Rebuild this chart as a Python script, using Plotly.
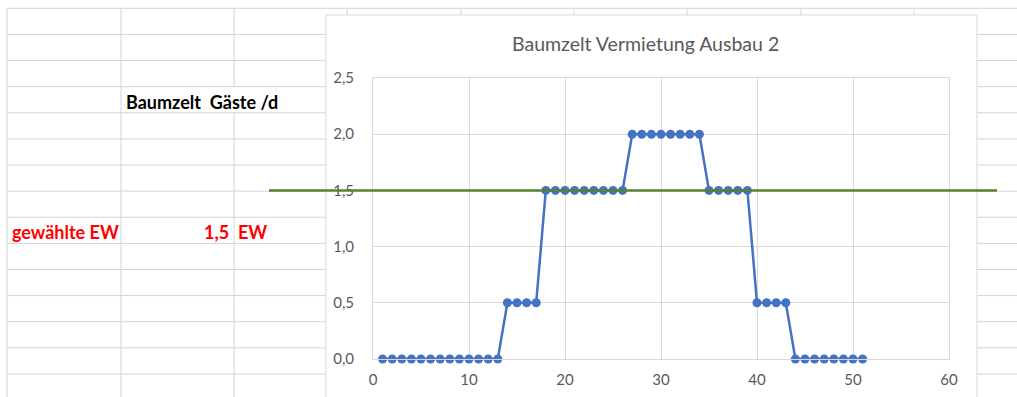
import plotly.graph_objects as go

# Daily occupancy of the tree tent (guests per day) over the rental days
days = list(range(1, 52))
guests = ([0.0] * 13 + [0.5] * 4 + [1.5] * 9 + [2.0] * 8 +
          [1.5] * 5 + [0.5] * 4 + [0.0] * 8)

chosen_ew = 1.5          # selected design value (EW)
chart_title = "Baumzelt Vermietung Ausbau 2"
x_ticks = [0, 10, 20, 30, 40, 50, 60]
y_ticks = [0.0, 0.5, 1.0, 1.5, 2.0, 2.5]

W, H = 1017, 397
PL, PR, PT, PB = 373, 949, 78, 359  # plot area in pixels


def px(x):
    return (x - PL) / (PR - PL)


def py(y):
    return (PB - y) / (PB - PT)


GRID = "#d4d4d4"
shapes = []


def hline(x0, x1, y, color=GRID, width=1):
    shapes.append(dict(type="line", xref="paper", yref="paper",
                       x0=px(x0), x1=px(x1), y0=py(y), y1=py(y),
                       line=dict(color=color, width=width), layer="below"))


def vline(x, y0, y1, color=GRID, width=1):
    shapes.append(dict(type="line", xref="paper", yref="paper",
                       x0=px(x), x1=px(x), y0=py(y0), y1=py(y1),
                       line=dict(color=color, width=width), layer="below"))


# worksheet cell grid around the embedded chart
rows = [8.3 + 26.12 * i for i in range(15)]
col_top = [347, 461, 574, 687, 801, 914]
chart_l, chart_r, chart_t = 326, 977, 15

hline(7, W, rows[0])
for y in rows[1:]:
    hline(7, chart_l, y)
    hline(chart_r, W, y)
vline(7, rows[0], H)
vline(121, rows[0], H)
vline(234, rows[0], rows[3])
vline(234, rows[4], H)
for x in col_top:
    vline(x, rows[0], chart_t)

# chart frame
shapes.append(dict(type="rect", xref="paper", yref="paper",
                   x0=px(chart_l), x1=px(chart_r), y0=py(chart_t), y1=py(H + 5),
                   line=dict(color="#d9d9d9", width=1), fillcolor="white",
                   layer="below"))

# selected EW line, drawn across the sheet at its data value
shapes.append(dict(type="line", xref="paper", yref="y",
                   x0=px(269), x1=px(997), y0=chosen_ew, y1=chosen_ew,
                   line=dict(color="#548235", width=2.5), layer="above"))

fig = go.Figure()
fig.add_trace(go.Scatter(
    x=days, y=guests, mode="lines+markers",
    line=dict(color="#4472c4", width=2.5),
    marker=dict(color="#4472c4", size=9),
    cliponaxis=False, showlegend=False, hoverinfo="x+y",
))

ew_text = f"{chosen_ew:.1f}".replace(".", ",")
CELL = 18
annotations = [
    dict(text=chart_title, x=px(645), y=py(43), xref="paper", yref="paper",
         showarrow=False, xanchor="center", yanchor="middle",
         font=dict(family="Lato", size=19.5, color="#595959")),
    dict(text="<b>Baumzelt  Gäste /d</b>", x=px(124), y=py(101.5),
         xref="paper", yref="paper", showarrow=False,
         xanchor="left", yanchor="middle",
         font=dict(family="Lato", size=CELL, color="black")),
    dict(text="<b>gewählte EW</b>", x=px(10), y=py(232),
         xref="paper", yref="paper", showarrow=False,
         xanchor="left", yanchor="middle",
         font=dict(family="Lato", size=CELL, color="#ff0000")),
    dict(text=f"<b>{ew_text}</b>", x=px(231), y=py(232),
         xref="paper", yref="paper", showarrow=False,
         xanchor="right", yanchor="middle",
         font=dict(family="Lato", size=CELL, color="#ff0000")),
    dict(text="<b>EW</b>", x=px(236), y=py(232),
         xref="paper", yref="paper", showarrow=False,
         xanchor="left", yanchor="middle",
         font=dict(family="Lato", size=CELL, color="#ff0000")),
]

axis_common = dict(showgrid=True, gridcolor="#d9d9d9", gridwidth=1,
                   zeroline=False, showline=True, linecolor="#d9d9d9",
                   linewidth=1, mirror=True, ticks="", automargin=False,
                   tickfont=dict(family="Lato", size=15, color="#595959"))

fig.update_layout(
    width=W, height=H,
    margin=dict(l=PL, r=W - PR, t=PT, b=H - PB, pad=0, autoexpand=False),
    paper_bgcolor="white", plot_bgcolor="white",
    separators=",.",
    shapes=shapes, annotations=annotations,
    xaxis=dict(range=[0, 60], tickvals=x_ticks, ticklabelstandoff=7,
               **axis_common),
    yaxis=dict(range=[0, 2.5], tickvals=y_ticks, tickformat=".1f",
               ticklabelstandoff=15, **axis_common),
)

fig.write_html("out.html")
